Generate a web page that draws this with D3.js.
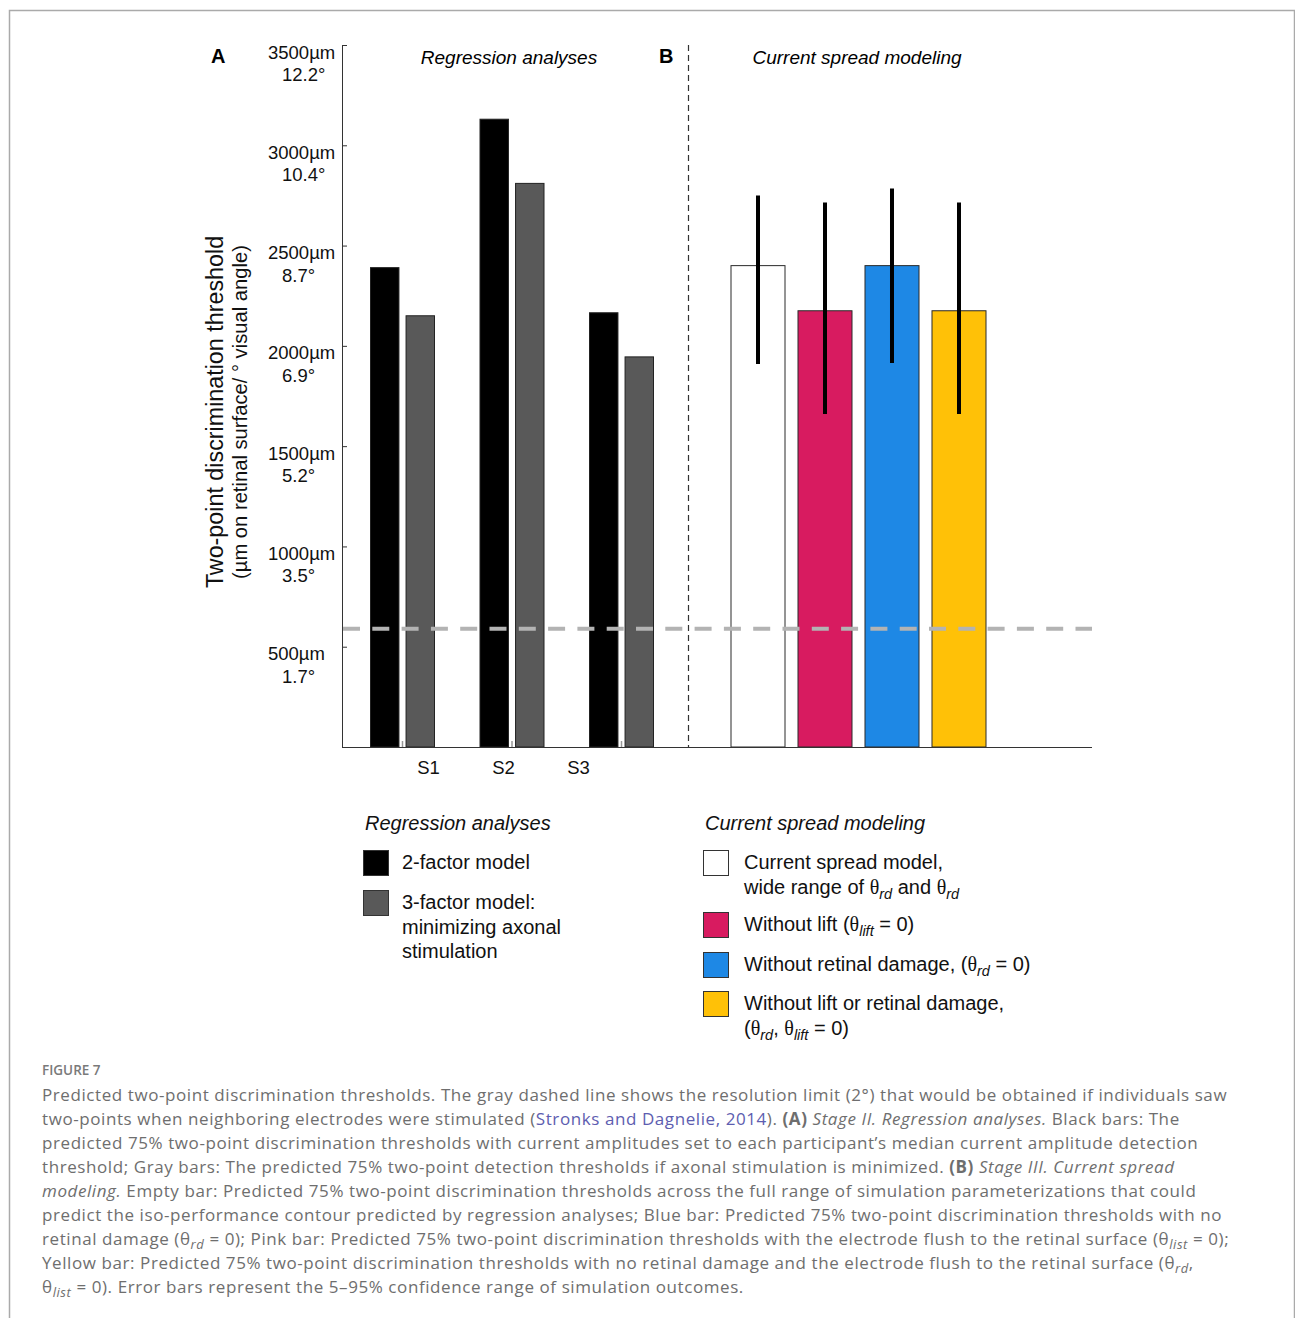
<!DOCTYPE html>
<html>
<head>
<meta charset="utf-8">
<script src="https://cdn.jsdelivr.net/npm/d3@7"></script>
<style>
  body { margin: 0; background: #fff; }
  svg { display: block; }
</style>
</head>
<body>
<svg id="chart" width="1295" height="1318"></svg>
<script>
// values, in um on the retinal surface
var subjects = ['S1', 'S2', 'S3'];
var twoFactor = [2390, 3130, 2165];
var threeFactor = [2150, 2810, 1945];

var spreadModels = ['wide', 'noLift', 'noDamage', 'noLiftNoDamage'];
var spreadValues = [2400, 2175, 2400, 2175];
var spreadLow = [1910, 1660, 1915, 1660];
var spreadHigh = [2750, 2715, 2785, 2715];
var spreadColors = ['#ffffff', '#d81b60', '#1e88e5', '#ffc107'];

var resolutionLimit = 590;   // 2 deg
var yTicks = [500, 1000, 1500, 2000, 2500, 3000, 3500];
var yTickDeg = ['1.7°', '3.5°', '5.2°', '6.9°', '8.7°', '10.4°', '12.2°'];

var SANS = '"Liberation Sans", Arial, sans-serif',
    SERIF = '"Liberation Serif", "Times New Roman", serif',
    CAP = '"Open Sans", "Noto Sans", sans-serif';

var svg = d3.select('#chart');

// rich text: parts are strings or {t, i, b, c, sub, g}
var rich = function(text, parts, subSize, subDy) {
    var shift = 0;
    parts.forEach(function(p) {
        if (typeof p === 'string') p = {t: p};
        var ts = text.append('tspan').text(p.t);
        var want = p.sub ? subDy : 0;
        if (want !== shift) { ts.attr('dy', want - shift); shift = want; }
        if (p.sub) ts.style('font-size', subSize + 'px').style('font-style', 'italic');
        if (p.i) ts.style('font-style', 'italic');
        if (p.b) ts.style('font-weight', 'bold');
        if (p.c) ts.style('fill', p.c);
        if (p.g) ts.style('font-family', SERIF);
    });
};

// frame
svg.append('path')
    .attr('d', 'M9.5,1318V10.5H1294.5V1318')
    .attr('fill', 'none').attr('stroke', '#aaa').attr('stroke-width', 1.5);

// scales
var y = d3.scaleLinear().domain([0, 3500]).range([747, 45]);
var xGroup = d3.scalePoint().domain(subjects).range([402.5, 621.5]);
var xInner = d3.scaleBand().domain(['two', 'three']).range([-32, 32]).paddingInner(0.2);
var xLabel = d3.scalePoint().domain(subjects).range([428, 578]);
var xSpread = d3.scaleBand().domain(spreadModels).range([731, 986]).paddingInner(0.194);

var plot = svg.append('g').style('font-family', SANS);

// y axis, ticks pointing inward, two-line labels
var yAxis = plot.append('g')
    .attr('transform', 'translate(342,0)')
    .call(d3.axisLeft(y).tickValues(yTicks).tickSizeInner(-5).tickSizeOuter(0));
yAxis.select('.domain').attr('stroke', '#333');
yAxis.selectAll('.tick line').attr('stroke', '#333');
yAxis.selectAll('.tick text').each(function(d) {
    var t = d3.select(this).text(null).attr('dy', null).attr('x', null)
        .attr('text-anchor', 'start')
        .style('font-size', '18.5px').style('fill', '#111');
    t.append('tspan').attr('x', -74).attr('y', 13).text(d + 'µm');
    t.append('tspan').attr('x', -60).attr('y', 35.5).text(yTickDeg[yTicks.indexOf(d)]);
});

// y title
plot.append('text')
    .attr('transform', 'translate(223,412) rotate(-90)')
    .attr('text-anchor', 'middle')
    .style('font-size', '23.3px').style('fill', '#111')
    .text('Two-point discrimination threshold');
plot.append('text')
    .attr('transform', 'translate(247,412) rotate(-90)')
    .attr('text-anchor', 'middle')
    .style('font-size', '20.2px').style('fill', '#111')
    .text('(µm on retinal surface/ ° visual angle)');

// panel A bars
var groups = plot.selectAll('.grp').data(subjects).enter().append('g')
    .attr('class', 'grp')
    .attr('transform', function(d) { return 'translate(' + xGroup(d) + ',0)'; });
groups.append('rect')
    .attr('x', xInner('two')).attr('width', xInner.bandwidth())
    .attr('y', function(d, i) { return y(twoFactor[i]); })
    .attr('height', function(d, i) { return y(0) - y(twoFactor[i]); })
    .attr('fill', '#000').attr('stroke', '#222').attr('stroke-width', 1);
groups.append('rect')
    .attr('x', xInner('three')).attr('width', xInner.bandwidth())
    .attr('y', function(d, i) { return y(threeFactor[i]); })
    .attr('height', function(d, i) { return y(0) - y(threeFactor[i]); })
    .attr('fill', '#595959').attr('stroke', '#222').attr('stroke-width', 1);
groups.append('line')
    .attr('x1', 0).attr('x2', 0).attr('y1', y(0)).attr('y2', y(0) - 6)
    .attr('stroke', '#999').attr('stroke-width', 1.5);

// panel B bars
plot.selectAll('.spread').data(spreadModels).enter().append('rect')
    .attr('class', 'spread')
    .attr('x', function(d) { return xSpread(d); })
    .attr('width', xSpread.bandwidth())
    .attr('y', function(d, i) { return y(spreadValues[i]); })
    .attr('height', function(d, i) { return y(0) - y(spreadValues[i]); })
    .attr('fill', function(d, i) { return spreadColors[i]; })
    .attr('stroke', '#2a2a2a').attr('stroke-width', 1);

// x baseline and labels
plot.append('line')
    .attr('x1', 342).attr('x2', 1092).attr('y1', y(0) + 0.5).attr('y2', y(0) + 0.5)
    .attr('stroke', '#333');
var xAxis = plot.append('g')
    .attr('transform', 'translate(0,' + y(0) + ')')
    .call(d3.axisBottom(xLabel).tickSize(0).tickPadding(14));
xAxis.select('.domain').remove();
xAxis.selectAll('text').style('font-size', '18.5px').style('fill', '#111');

// resolution limit
plot.append('line')
    .attr('x1', 343).attr('x2', 1092)
    .attr('y1', y(resolutionLimit)).attr('y2', y(resolutionLimit))
    .attr('stroke', '#b3b3b3').attr('stroke-width', 4)
    .attr('stroke-dasharray', '17,12.3');

// panel divider
plot.append('line')
    .attr('x1', 688.5).attr('x2', 688.5).attr('y1', 45).attr('y2', y(0))
    .attr('stroke', '#333').attr('stroke-width', 1.2)
    .attr('stroke-dasharray', '6,4');

// error bars
plot.selectAll('.err').data(spreadModels).enter().append('line')
    .attr('class', 'err')
    .attr('x1', function(d) { return xSpread(d) + xSpread.bandwidth() / 2; })
    .attr('x2', function(d) { return xSpread(d) + xSpread.bandwidth() / 2; })
    .attr('y1', function(d, i) { return y(spreadHigh[i]); })
    .attr('y2', function(d, i) { return y(spreadLow[i]); })
    .attr('stroke', '#000').attr('stroke-width', 4);

// panel headers
plot.append('text').attr('x', 211).attr('y', 63)
    .style('font-size', '20px').style('font-weight', 'bold').text('A');
plot.append('text').attr('x', 659).attr('y', 63)
    .style('font-size', '20px').style('font-weight', 'bold').text('B');
plot.append('text').attr('x', 509).attr('y', 64).attr('text-anchor', 'middle')
    .style('font-size', '19px').style('font-style', 'italic').text('Regression analyses');
plot.append('text').attr('x', 857).attr('y', 64).attr('text-anchor', 'middle')
    .style('font-size', '19px').style('font-style', 'italic').text('Current spread modeling');

// legends
var TH = {t: 'θ', g: 1};
var legends = [
    {x: 363, dx: 39, title: 'Regression analyses', items: [
        {y: 850, fill: '#000', lines: [['2-factor model']]},
        {y: 890, fill: '#595959', lines: [['3-factor model:'], ['minimizing axonal'], ['stimulation']]}
    ]},
    {x: 703, dx: 41, title: 'Current spread modeling', items: [
        {y: 850, fill: spreadColors[0], lines: [['Current spread model,'],
            ['wide range of ', TH, {t: 'rd', sub: 1}, ' and ', TH, {t: 'rd', sub: 1}]]},
        {y: 912, fill: spreadColors[1], lines: [['Without lift (', TH, {t: 'lift', sub: 1}, ' = 0)']]},
        {y: 952, fill: spreadColors[2], lines: [['Without retinal damage, (', TH, {t: 'rd', sub: 1}, ' = 0)']]},
        {y: 991, fill: spreadColors[3], lines: [['Without lift or retinal damage,'],
            ['(', TH, {t: 'rd', sub: 1}, ', ', TH, {t: 'lift', sub: 1}, ' = 0)']]}
    ]}
];
legends.forEach(function(lg) {
    var g = plot.append('g').style('font-size', '20px').style('fill', '#111');
    g.append('text').attr('x', lg.x + 2).attr('y', 830)
        .style('font-style', 'italic').text(lg.title);
    lg.items.forEach(function(it) {
        g.append('rect').attr('x', lg.x + 0.5).attr('y', it.y + 0.5)
            .attr('width', 25).attr('height', 25)
            .attr('fill', it.fill).attr('stroke', '#333').attr('stroke-width', 1);
        it.lines.forEach(function(parts, k) {
            var t = g.append('text').attr('x', lg.x + lg.dx).attr('y', it.y + 19 + k * 24.5);
            rich(t, parts, 14.5, 5);
        });
    });
});

// caption
var LINK = '#5d5db0';
var captionLines = [
    ['Predicted two-point discrimination thresholds. The gray dashed line shows the resolution limit (2°) that would be obtained if individuals saw'],
    ['two-points when neighboring electrodes were stimulated (', {t: 'Stronks and Dagnelie, 2014', c: LINK}, '). ',
        {t: '(A)', b: 1}, ' ', {t: 'Stage II. Regression analyses.', i: 1}, ' Black bars: The'],
    ['predicted 75% two-point discrimination thresholds with current amplitudes set to each participant’s median current amplitude detection'],
    ['threshold; Gray bars: The predicted 75% two-point detection thresholds if axonal stimulation is minimized. ',
        {t: '(B)', b: 1}, ' ', {t: 'Stage III. Current spread', i: 1}],
    [{t: 'modeling.', i: 1}, ' Empty bar: Predicted 75% two-point discrimination thresholds across the full range of simulation parameterizations that could'],
    ['predict the iso-performance contour predicted by regression analyses; Blue bar: Predicted 75% two-point discrimination thresholds with no'],
    ['retinal damage (θ', {t: 'rd', sub: 1}, ' = 0); Pink bar: Predicted 75% two-point discrimination thresholds with the electrode flush to the retinal surface (θ',
        {t: 'list', sub: 1}, ' = 0);'],
    ['Yellow bar: Predicted 75% two-point discrimination thresholds with no retinal damage and the electrode flush to the retinal surface (θ',
        {t: 'rd', sub: 1}, ','],
    ['θ', {t: 'list', sub: 1}, ' = 0). Error bars represent the 5–95% confidence range of simulation outcomes.']
];
var cap = svg.append('g').style('font-family', CAP).style('fill', '#6e6e6e');
cap.append('text').attr('x', 42).attr('y', 1075)
    .style('font-size', '13.5px').style('font-weight', 600).style('fill', '#7a7a7a')
    .text('FIGURE 7');
captionLines.forEach(function(parts, k) {
    var t = cap.append('text').attr('x', 42).attr('y', 1101 + k * 24)
        .style('font-size', '17px').style('letter-spacing', '0.58px');
    rich(t, parts, 13, 4);
});
</script>
</body>
</html>
